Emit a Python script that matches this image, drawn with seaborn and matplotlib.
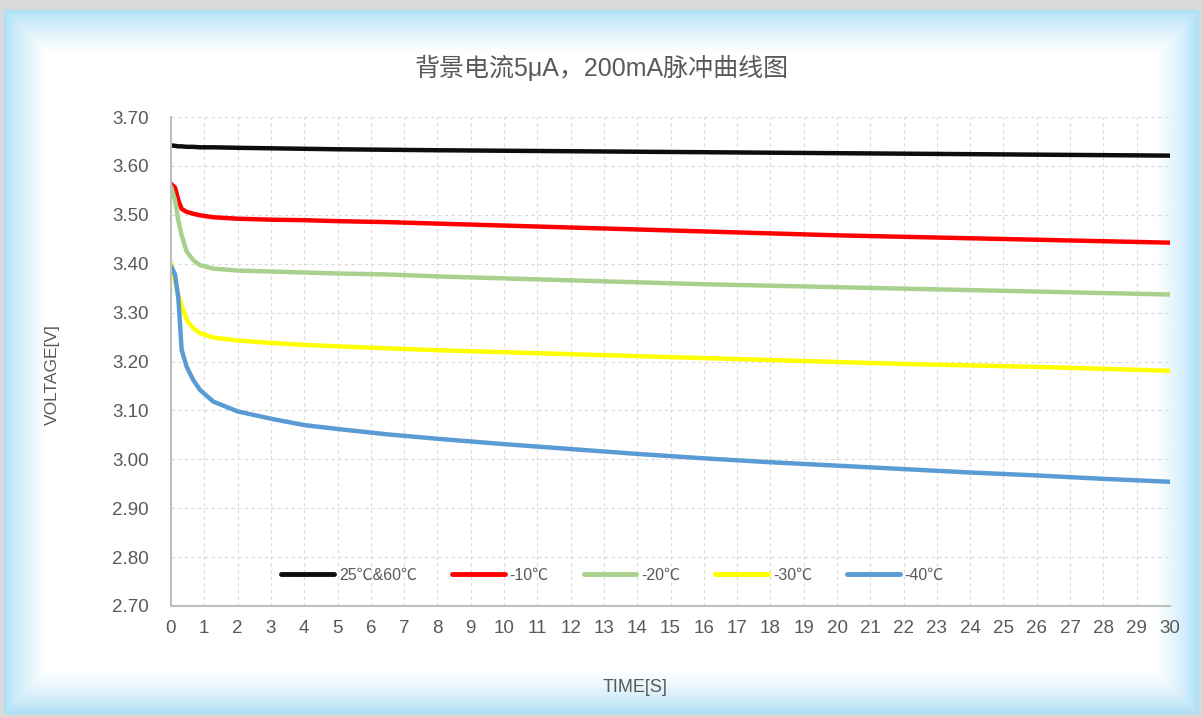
import numpy as np
import pandas as pd
import matplotlib
matplotlib.use("Agg")
import matplotlib.pyplot as plt
import seaborn as sns

# ---- data ----
time_s = [0, 0.12, 0.22, 0.32, 0.47, 0.67, 0.87, 1.27, 2, 3, 4, 5, 6.5, 8, 10, 12, 14, 16, 18, 20, 22, 24, 26, 28, 30]
v_25_60 = [3.642, 3.641, 3.640, 3.640, 3.639, 3.639, 3.638, 3.638, 3.637, 3.636, 3.635, 3.634, 3.633, 3.632,
           3.631, 3.630, 3.629, 3.628, 3.627, 3.626, 3.625, 3.624, 3.623, 3.622, 3.621]
v_m10 = [3.563, 3.556, 3.530, 3.512, 3.506, 3.502, 3.499, 3.495, 3.492, 3.490, 3.489, 3.487, 3.485, 3.482,
         3.478, 3.474, 3.470, 3.466, 3.462, 3.458, 3.455, 3.452, 3.449, 3.446, 3.443]
v_m20 = [3.558, 3.530, 3.488, 3.458, 3.425, 3.407, 3.397, 3.390, 3.386, 3.384, 3.382, 3.380, 3.378, 3.374,
         3.370, 3.366, 3.362, 3.358, 3.355, 3.352, 3.349, 3.346, 3.343, 3.340, 3.337]
v_m30 = [3.402, 3.365, 3.335, 3.315, 3.285, 3.268, 3.258, 3.249, 3.243, 3.238, 3.234, 3.231, 3.227, 3.223,
         3.219, 3.215, 3.211, 3.207, 3.203, 3.199, 3.195, 3.192, 3.189, 3.185, 3.181]
v_m40 = [3.395, 3.378, 3.330, 3.224, 3.189, 3.162, 3.142, 3.118, 3.098, 3.083, 3.070, 3.062, 3.051, 3.042,
         3.031, 3.021, 3.011, 3.002, 2.994, 2.987, 2.980, 2.973, 2.967, 2.960, 2.954]
series_names = ["25℃&60℃", "-10℃", "-20℃", "-30℃", "-40℃"]
series_values = [v_25_60, v_m10, v_m20, v_m30, v_m40]
colors = ["#0d0d0d", "#ff0000", "#a9d18e", "#ffff00", "#5b9bd5"]
y_ticks = [2.70, 2.80, 2.90, 3.00, 3.10, 3.20, 3.30, 3.40, 3.50, 3.60, 3.70]
x_ticks = list(range(0, 31))
title = "背景电流5μA，200mA脉冲曲线图"
x_label = "TIME[S]"
y_label = "VOLTAGE[V]"

df = pd.DataFrame({
    "time": np.tile(time_s, len(series_names)),
    "voltage": np.concatenate(series_values),
    "series": np.repeat(series_names, len(time_s)),
})

sns.set_theme(style="white")
plt.rcParams["font.family"] = ["Liberation Sans", "Noto Sans CJK SC", "DejaVu Sans"]

W, H = 1203, 717
fig = plt.figure(figsize=(W / 100, H / 100), dpi=100)

# background with light-blue edge vignette and grey outer border
bg = fig.add_axes([0, 0, 1, 1], zorder=-10)
yy, xx = np.mgrid[0:H, 0:W]
d = np.minimum.reduce([xx - 4, W - 5 - xx, yy - 10, H - 4 - yy]).astype(float)
f = np.clip(d / 42.0, 0, 1) ** 0.7
edge = np.array([168, 222, 246]) / 255.0
img = edge[None, None, :] * (1 - f[..., None]) + f[..., None]
outside = (xx < 4) | (xx > W - 5) | (yy < 10) | (yy > H - 4)
img[outside] = np.array([217, 217, 217]) / 255.0
bg.imshow(img, aspect="auto", extent=[0, 1, 0, 1], origin="upper")
bg.set_axis_off()

ax = fig.add_axes([171 / W, 1 - 606 / H, (1170 - 171) / W, (606 - 117) / H])
ax.set_facecolor("none")
sns.lineplot(data=df, x="time", y="voltage", hue="series", hue_order=series_names,
             palette=colors, linewidth=3.2, ax=ax, legend=True)

ax.set_xlim(0, 30)
ax.set_ylim(2.70, 3.70)
ax.set_xticks(x_ticks)
ax.set_xticklabels([str(t) for t in x_ticks])
ax.set_yticks(y_ticks)
ax.set_yticklabels([f"{v:.2f}" for v in y_ticks])
ax.grid(True, color="#d9d9d9", linestyle=(0, (3, 3)), linewidth=0.8)
for s in ["top", "right"]:
    ax.spines[s].set_visible(False)
for s in ["left", "bottom"]:
    ax.spines[s].set_color("#bfbfbf")
    ax.spines[s].set_linewidth(1.5)
ax.tick_params(axis="both", colors="#595959", labelsize=13.5, length=0)
ax.tick_params(axis="y", pad=16)
ax.tick_params(axis="x", pad=10)
ax.set_xlabel(x_label, color="#595959", fontsize=13)
ax.set_ylabel(y_label, color="#595959", fontsize=12.5)
# label positions in axes-fraction coordinates
ax.xaxis.set_label_coords((635 - 171) / 999, -(688 - 606) / 489)
ax.yaxis.set_label_coords(-(171 - 52) / 999, (606 - 375) / 489)
ax.xaxis.label.set_va("center")
ax.yaxis.label.set_va("center")

leg = ax.legend(loc="center", bbox_to_anchor=(0.442, 0.063), ncol=5, frameon=False,
                fontsize=11.5, handlelength=3.3, columnspacing=2.2, handletextpad=0.3)
for line in leg.get_lines():
    line.set_linewidth(3.5)
    line.set_solid_capstyle("round")
for t in leg.get_texts():
    t.set_color("#595959")

fig.text(0.5, 1 - 68 / H, title, ha="center", va="center", fontsize=18, color="#595959")

fig.savefig("out.png", dpi=100)
